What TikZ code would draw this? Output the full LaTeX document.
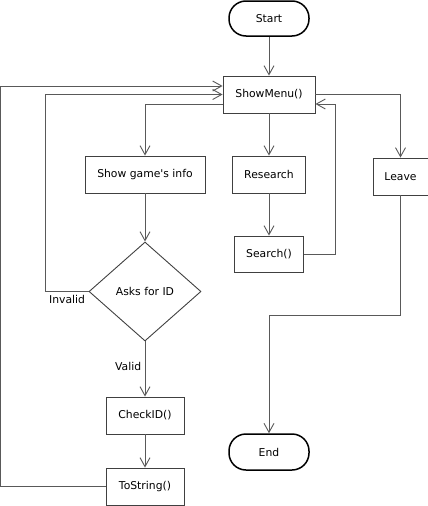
\documentclass[tikz,border=0pt]{standalone}
\usepackage{fontspec}
\setmainfont{DejaVu Sans}[Ligatures=TeXOff]
\usetikzlibrary{positioning}
\usetikzlibrary{arrows.meta}
\usetikzlibrary{shapes.geometric}
\tikzset{
  flowbox/.style={draw=black!75, line width=0.9pt, minimum height=37pt, inner sep=2pt},
  terminal/.style={draw=black, line width=1.5pt, rounded corners=17pt, minimum width=80pt, minimum height=35pt},
  decision/.style={diamond, draw=black!75, line width=0.9pt, minimum width=112pt, minimum height=99pt, aspect=1.13, inner sep=0pt},
  flowarrow/.style={draw=black!65, line width=0.9pt, -{Straight Barb[length=9pt,width=10pt]}},
  flowlabel/.style={font=\fontsize{10.8}{12}\selectfont}
}
\begin{document}
\begin{tikzpicture}[x=1pt, y=-1pt, every node/.style={font=\fontsize{10.8}{12}\selectfont}]
      \useasboundingbox (0,0) rectangle (428,506);
      % main column
      \node[terminal] (start) at (269,18.5) {Start};
      \node[flowbox, minimum width=92pt] (menu) at (269,94.5) {ShowMenu()};
      \node[flowbox, minimum width=120pt] (info) at (145,174.5) {Show game's info};
      \node[flowbox, minimum width=73pt] (research) at (269,174.5) {Research};
      \node[flowbox, minimum width=55pt] (leave) at (400.5,176.5) {Leave};
      \node[flowbox, minimum width=69pt, minimum height=36pt] (search) at (269,254) {Search()};
      \node[decision] (ask) at (145,291.5) {Asks for ID};
      \node[flowbox, minimum width=78pt] (check) at (145,415.5) {CheckID()};
      \node[flowbox, minimum width=78pt] (tostr) at (145,486.5) {ToString()};
      \node[terminal, minimum height=36pt] (end) at (269,452) {End};
      % connectors
      \draw[flowarrow] (start) -- (menu);
      \draw[flowarrow] ([yshift=-9.5pt]menu.west) -| (info.north);
      \draw[flowarrow] (menu) -- (research);
      \draw[flowarrow] (menu.east) -| (leave.north);
      \draw[flowarrow] (research) -- (search);
      \draw[flowarrow] (search.east) -- ++(31.5,0) |- ([yshift=-9.5pt]menu.east);
      \draw[flowarrow] (info) -- (ask);
      \draw[flowarrow] (ask.west) -- node[below, flowlabel] {Invalid} ++(-43,0) |- (menu.west);
      \draw[flowarrow] (ask.south) -- node[left, flowlabel, pos=0.45] {Valid} (check.north);
      \draw[flowarrow] (check) -- (tostr);
      \draw[flowarrow] (tostr.west) -- ++(-105,0) |- ([yshift=8.5pt]menu.west);
      \draw[flowarrow] (leave.south) -- ++(0,120) -| (end.north);
\end{tikzpicture}
\end{document}
